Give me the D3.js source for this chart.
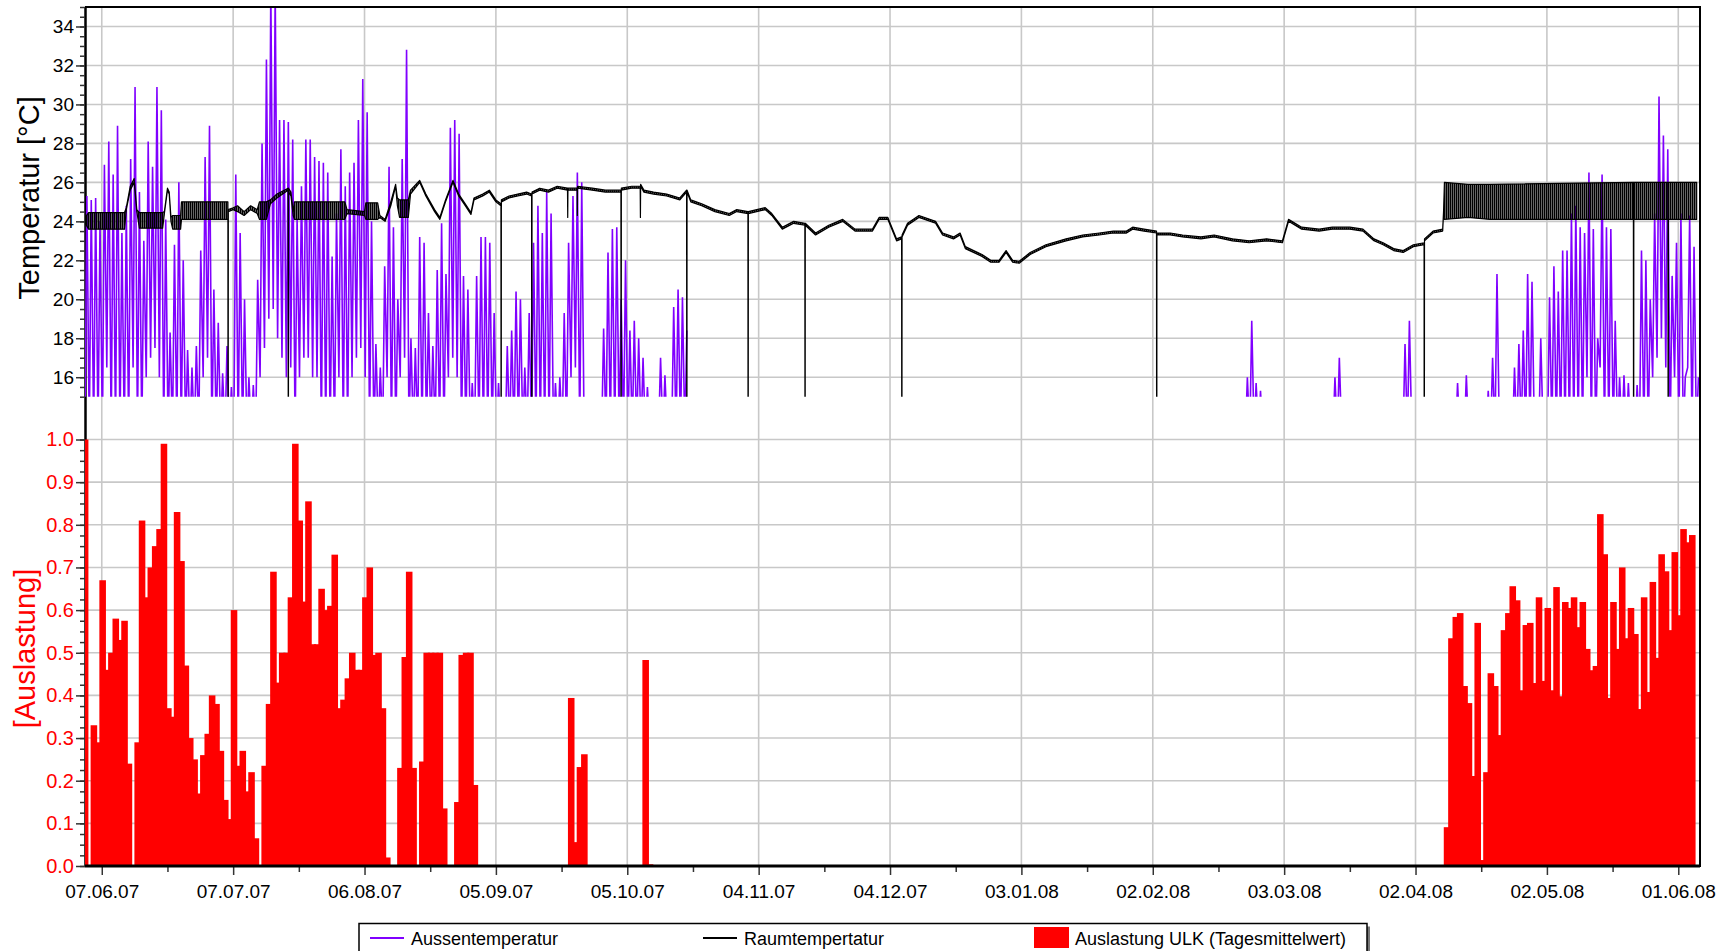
<!DOCTYPE html>
<html>
<head>
<meta charset="utf-8">
<script src="https://cdn.jsdelivr.net/npm/d3@7"></script>
<style>
  body { margin: 0; background: #fff; }
  svg { display: block; }
  text { font-family: "Liberation Sans", Arial, sans-serif; }
</style>
</head>
<body>
<div id="chart"></div>
<script>
// SVG dims
var width = 1728;
var height = 951;

// Tick labels
var dateTicks = ["07.06.07", "07.07.07", "06.08.07", "05.09.07", "05.10.07", "04.11.07",
    "04.12.07", "03.01.08", "02.02.08", "03.03.08", "02.04.08", "02.05.08", "01.06.08"];
var tempTicks = [16, 18, 20, 22, 24, 26, 28, 30, 32, 34];
var ausTicks = [0.0, 0.1, 0.2, 0.3, 0.4, 0.5, 0.6, 0.7, 0.8, 0.9, 1.0];

// Day numbers count from 03.06.07
var firstDay = "03.06.07";

// Aussentemperatur, daily min / max, block 1 starts on day 0
var outStart1 = 0;
var outMax1 = [
    25.3, 25.1, 25.2, 24.0, 26.9, 28.1, 26.4, 28.9, 23.4, 24.8,
    27.2, 30.9, 25.5, 23.0, 28.1, 26.8, 30.9, 29.7, 24.1, 18.3,
    22.8, 26.0, 22.0, 17.4, 16.5, 17.6, 22.5, 27.3, 28.9, 20.5,
    18.8, 16.2, 17.6, 15.5, 26.4, 23.4, 20.0, 16.0, 15.6, 21.0,
    28.0, 32.3, 36.0, 36.0, 29.2, 29.2, 29.1, 28.2, 24.1, 25.8,
    28.2, 28.2, 27.3, 27.1, 27.0, 26.5, 22.2, 24.4, 27.7, 25.8,
    26.5, 27.0, 29.2, 31.3, 29.6, 24.0, 17.7, 16.5, 21.7, 26.8,
    23.7, 20.0, 27.2, 32.8, 18.0, 17.5, 23.2, 22.9, 19.3, 17.6,
    21.5, 23.9, 21.3, 28.8, 29.2, 28.5, 21.2, 20.5, 15.7, 21.2,
    23.2, 23.2, 22.9, 19.3, 15.7, 13.0, 17.6, 18.4, 20.4, 20.0,
    16.5, 19.3, 22.9, 24.8, 23.4, 25.5, 24.4, 15.7, 16.0, 19.3,
    22.9, 25.3, 26.5, 26.0, 13.0, 13.0, 13.0, 13.0, 18.5, 22.4,
    23.6, 23.7, 20.0, 22.0, 18.4, 18.9, 18.0, 17.0, 15.5, 13.0,
    13.0, 17.0, 16.1, 13.0, 19.6, 20.5, 20.1, 18.4
];
var outMin1 = [
    13, 13, 13, 13, 13, 16.5, 13, 13, 13, 13,
    13, 16.5, 13, 13, 16, 17, 17.5, 16, 13, 13,
    13, 13, 13, 13, 13, 13, 13, 16, 17, 13,
    13, 13, 13, 13, 13, 13, 13, 13, 13, 13,
    16, 17.5, 19, 19.5, 18, 17, 16, 16.5, 13, 16,
    17, 17, 16, 16, 13, 13, 13, 13, 16, 13,
    13, 16, 17, 17.5, 16, 13, 13, 13, 13, 16,
    13, 13, 16, 17, 13, 13, 13, 13, 13, 13,
    13, 13, 13, 16, 17, 16, 13, 13, 13, 13,
    13, 13, 13, 13, 13, 13, 13, 13, 13, 13,
    13, 13, 13, 13, 13, 13, 13, 13, 13, 13,
    13, 16, 16.5, 13, 13, 13, 13, 13, 13, 13,
    13, 13, 13, 13, 13, 13, 13, 13, 13, 13,
    13, 13, 13, 13, 13, 13, 13, 13
];

// Aussentemperatur block 2 starts on day 265 (23.02.08)
var outStart2 = 265;
var outMax2 = [
    16.0, 18.9, 15.7, 15.3, 13,
    13, 13, 13, 13, 13, 13, 13, 13, 13, 13,
    13, 13, 13, 13, 13, 16.0, 17.0, 13, 13, 13,
    13, 13, 13, 13, 13, 13, 13, 13, 13, 13,
    13, 17.7, 18.9, 13, 13, 13, 13, 13, 13, 13,
    13, 13, 13, 15.7, 13, 16.1, 13, 13, 13, 13,
    15.3, 17.0, 21.3, 13, 13, 13, 16.5, 17.7, 18.4, 21.3,
    20.9, 13, 18.0, 13, 20.1, 21.7, 20.4, 22.5, 22.5, 24.4,
    24.8, 23.7, 23.4, 26.5, 23.6, 18.0, 26.4, 23.7, 23.6, 18.9,
    16.0, 16.1, 15.7, 13, 15.6, 22.5, 22.0, 20.0, 24.4, 30.4,
    28.4, 27.7, 21.2, 22.9, 24.4, 16.0, 24.3, 22.7, 16.0
];
var outMin2 = [
    13, 13, 13, 13, 13, 13, 13, 13, 13, 13,
    13, 13, 13, 13, 13, 13, 13, 13, 13, 13,
    13, 13, 13, 13, 13, 13, 13, 13, 13, 13,
    13, 13, 13, 13, 13, 13, 13, 13, 13, 13,
    13, 13, 13, 13, 13, 13, 13, 13, 13, 13,
    13, 13, 13, 13, 13, 13, 13, 13, 13, 13,
    13, 13, 13, 13, 13, 13, 13, 13, 13, 13,
    13, 13, 13, 13, 13, 13, 13, 13, 16, 13,
    13, 16.5, 13, 13, 13, 13, 13, 13, 13, 13,
    13, 13, 13, 16, 17, 18, 16.5, 13, 16, 13,
    13, 16.5, 13, 13
];

// Raumtempertatur: day, low and high of the reading band (0 = sensor dropout)
var roomDay = [
    0.2, 1.0, 9.2, 9.6, 10.5, 11.4, 12.0, 12.6, 17.9, 18.3,
    19.0, 19.4, 19.8, 20.2, 22.0, 22.2, 32.8, 32.85, 32.9, 34.0,
    35.0, 36.5, 38.0, 39.5, 40.0, 41.6, 42.5, 44.0, 46.55, 46.6,
    46.65, 47.2, 47.7, 48.0, 59.5, 60.0, 64.0, 64.3, 67.0, 67.5,
    68.7, 70.0, 71.1, 71.5, 72.0, 74.0, 74.5, 76.6, 78.0, 80.0,
    81.2, 82.5, 84.2, 85.5, 87.0, 88.3, 89.0, 91.0, 92.5, 94.0,
    95.15, 95.2, 95.25, 97.0, 99.0, 101.0, 102.15, 102.2, 102.25, 104.0,
    106.0, 108.0, 110.35, 110.4, 110.45, 112.55, 112.6, 112.65, 116.0, 119.0,
    122.55, 122.6, 122.65, 125.0, 126.95, 127.0, 127.05, 127.8, 130.0, 133.0,
    136.0, 137.55, 137.6, 137.65, 138.5, 141.0, 144.0, 147.3, 149.0, 151.55,
    151.6, 151.65, 155.5, 157.0, 159.4, 162.0, 164.55, 164.6, 164.65, 167.0,
    170.0, 173.2, 176.0, 180.0, 181.5, 183.5, 185.5, 186.65, 186.7, 186.75,
    188.0, 190.6, 194.4, 196.0, 198.5, 200.0, 201.2, 205.0, 207.0, 208.9,
    210.5, 212.0, 213.5, 216.0, 219.6, 224.2, 228.0, 231.8, 235.0, 238.0,
    239.4, 242.0, 244.85, 244.9, 244.95, 248.0, 250.8, 255.0, 258.0, 262.2,
    266.0, 270.0, 273.6, 275.0, 278.0, 282.0, 285.0, 289.0, 292.0, 294.5,
    296.6, 299.0, 301.2, 303.5, 305.95, 306.0, 306.05, 308.0, 310.2, 310.4,
    310.6, 316.0, 321.0, 353.75, 353.8, 353.85, 361.65, 361.7, 361.75, 368.2
];
var roomLo = [
    23.9, 23.6, 23.6, 24.6, 25.6, 26.0, 24.5, 23.65, 23.65, 24.4,
    25.6, 25.4, 24.0, 23.6, 23.6, 24.1, 24.1, 0, 24.5, 24.6,
    24.5, 24.3, 24.6, 24.4, 24.1, 24.1, 24.9, 25.2, 25.6, 0,
    25.5, 25.3, 24.3, 24.1, 24.1, 24.4, 24.3, 24.1, 24.1, 24.2,
    24.0, 24.8, 25.8, 24.8, 24.2, 24.2, 25.4, 26.0, 25.3, 24.5,
    24.1, 25.0, 26.0, 25.3, 24.8, 24.35, 25.1, 25.3, 25.5, 25.0,
    24.8, 0, 25.0, 25.2, 25.3, 25.4, 25.3, 0, 25.4, 25.6,
    25.5, 25.7, 25.6, 24.2, 25.6, 25.6, 24.3, 25.7, 25.6, 25.5,
    25.5, 0, 25.6, 25.7, 25.7, 24.2, 25.8, 25.5, 25.4, 25.3,
    25.1, 25.5, 0, 25.5, 25.0, 24.8, 24.5, 24.3, 24.5, 24.4,
    0, 24.4, 24.6, 24.3, 23.6, 23.9, 23.8, 0, 23.8, 23.3,
    23.7, 24.0, 23.5, 23.5, 24.1, 24.1, 23.0, 23.1, 0, 23.2,
    23.8, 24.2, 23.9, 23.3, 23.1, 23.3, 22.6, 22.2, 21.9, 21.9,
    22.4, 21.9, 21.85, 22.3, 22.7, 23.0, 23.2, 23.3, 23.4, 23.4,
    23.6, 23.5, 23.4, 0, 23.3, 23.3, 23.2, 23.1, 23.2, 23.0,
    22.9, 23.0, 22.9, 24.0, 23.6, 23.5, 23.6, 23.6, 23.5, 23.0,
    22.8, 22.5, 22.4, 22.7, 22.8, 0, 23.0, 23.4, 23.5, 24.4,
    24.1, 24.2, 24.1, 24.1, 0, 24.1, 24.1, 0, 24.1, 24.1
];
var roomHi = [
    24.2, 24.45, 24.45, 24.7, 25.8, 26.2, 24.6, 24.45, 24.45, 24.5,
    25.7, 25.5, 24.2, 24.3, 24.3, 25.0, 25.0, 0, 24.6, 24.7,
    24.8, 24.5, 24.8, 24.6, 25.0, 25.0, 25.1, 25.4, 25.7, 0,
    25.7, 25.5, 24.5, 25.0, 25.0, 24.6, 24.5, 24.95, 24.95, 24.3,
    24.1, 25.0, 25.9, 25.2, 25.1, 25.1, 25.6, 26.1, 25.4, 24.6,
    24.2, 25.1, 26.1, 25.4, 24.9, 24.45, 25.2, 25.4, 25.6, 25.1,
    24.9, 0, 25.1, 25.3, 25.4, 25.5, 25.4, 0, 25.5, 25.7,
    25.6, 25.8, 25.7, 24.3, 25.7, 25.7, 24.4, 25.8, 25.7, 25.6,
    25.6, 0, 25.7, 25.8, 25.8, 24.3, 25.9, 25.6, 25.5, 25.4,
    25.2, 25.6, 0, 25.6, 25.1, 24.9, 24.6, 24.4, 24.6, 24.5,
    0, 24.5, 24.7, 24.4, 23.7, 24.0, 23.9, 0, 23.9, 23.4,
    23.8, 24.1, 23.6, 23.6, 24.2, 24.2, 23.1, 23.2, 0, 23.3,
    23.9, 24.3, 24.0, 23.4, 23.2, 23.4, 22.7, 22.3, 22.0, 22.0,
    22.5, 22.0, 21.95, 22.4, 22.8, 23.1, 23.3, 23.4, 23.5, 23.5,
    23.7, 23.6, 23.5, 0, 23.4, 23.4, 23.3, 23.2, 23.3, 23.1,
    23.0, 23.1, 23.0, 24.1, 23.7, 23.6, 23.7, 23.7, 23.6, 23.1,
    22.9, 22.6, 22.5, 22.8, 22.9, 0, 23.1, 23.5, 23.6, 24.5,
    26.0, 25.9, 25.9, 26.0, 0, 26.0, 26.0, 0, 26.0, 26.0
];

// Auslastung ULK (Tagesmittelwert), one value per day
var ausStart1 = 0;
var aus1 = [
    1.0, 0, 0.33, 0.29, 0.67, 0.46, 0.50, 0.58, 0.53, 0.575,
    0.24, 0, 0.29, 0.81, 0.63, 0.70, 0.75, 0.79, 0.99, 0.37,
    0.35, 0.83, 0.715, 0.47, 0.30, 0.25, 0.17, 0.26, 0.31, 0.40,
    0.38, 0.27, 0.155, 0.11, 0.60, 0.235, 0.27, 0.175, 0.22, 0.065,
    0, 0.235, 0.38, 0.69, 0.43, 0.50, 0.50, 0.63, 0.99, 0.81,
    0.62, 0.855, 0.52, 0.52, 0.65, 0.60, 0.61, 0.73, 0.37, 0.39,
    0.44, 0.50, 0.46, 0.46, 0.63, 0.70, 0.495, 0.50, 0.37, 0.02,
    0, 0, 0.23, 0.49, 0.69, 0.23, 0, 0.245, 0.50, 0.50,
    0.50, 0.50, 0.135, 0, 0, 0.15, 0.495, 0.50, 0.50, 0.19,
    0, 0, 0, 0, 0, 0, 0, 0, 0, 0,
    0, 0, 0, 0, 0, 0, 0, 0, 0, 0,
    0, 0.394, 0.056, 0.232, 0.262, 0, 0, 0, 0, 0,
    0, 0, 0, 0, 0, 0, 0, 0, 0.483, 0.004
];
var ausStart2 = 311;
var aus2 = [
    0.091, 0.534, 0.584, 0.593, 0.422, 0.382, 0.211, 0.57, 0.014, 0.22,
    0.452, 0.422, 0.307, 0.553, 0.593, 0.656, 0.623, 0.412, 0.565, 0.57,
    0.429, 0.63, 0.434, 0.605, 0.412, 0.654, 0.398, 0.619, 0.605, 0.63,
    0.56, 0.619, 0.509, 0.459, 0.469, 0.825, 0.731, 0.394, 0.619, 0.509,
    0.70, 0.534, 0.605, 0.544, 0.368, 0.63, 0.408, 0.666, 0.488, 0.731,
    0.691, 0.553, 0.736, 0.588, 0.79, 0.759, 0.776
];

// Legend entries
var legendNames = ["Aussentemperatur", "Raumtempertatur", "Auslastung ULK (Tagesmittelwert)"];

// Colours
var purple = "#8000ff";
var red = "#ff0000";
var gridColor = "#c8c8c8";

var parseDate = d3.utcParse("%d.%m.%y");
var day0 = parseDate(firstDay).getTime();
function dayDate(d) {
    return new Date(day0 + d * 864e5);
}

// Scales
var x = d3.scaleUtc()
    .domain([dayDate(0.17), dayDate(368.96)])
    .range([85, 1700]);
var yT = d3.scaleLinear()
    .domain([15, 35])
    .range([396.7, 7]);
var yA = d3.scaleLinear()
    .domain([0, 1])
    .range([866, 439.5]);

var svg = d3.select("#chart").append("svg")
    .attr("width", width)
    .attr("height", height);

svg.append("rect").attr("width", width).attr("height", height).attr("fill", "#fff");

var defs = svg.append("defs");
defs.append("clipPath").attr("id", "clipT")
    .append("rect").attr("x", 85).attr("y", 7).attr("width", 1615).attr("height", yT(15) - 7);
defs.append("clipPath").attr("id", "clipA")
    .append("rect").attr("x", 85).attr("y", 410).attr("width", 1615).attr("height", 456);
// dense hourly swings of the room reading show up as vertical hatching
defs.append("pattern").attr("id", "hatch")
    .attr("patternUnits", "userSpaceOnUse")
    .attr("width", 2).attr("height", 8)
    .append("rect").attr("width", 1.6).attr("height", 8).attr("fill", "#000");

// Gridlines
var dates = dateTicks.map(parseDate);
var grid = svg.append("g").attr("stroke", gridColor).attr("stroke-width", 1.6);
grid.selectAll(".gv").data(dates).enter().append("line")
    .attr("x1", function(d) { return x(d); })
    .attr("x2", function(d) { return x(d); })
    .attr("y1", 7)
    .attr("y2", 866);
grid.selectAll(".gt").data(tempTicks).enter().append("line")
    .attr("x1", 85).attr("x2", 1700)
    .attr("y1", function(d) { return yT(d); })
    .attr("y2", function(d) { return yT(d); });
grid.selectAll(".ga").data(ausTicks.slice(1)).enter().append("line")
    .attr("x1", 85).attr("x2", 1700)
    .attr("y1", function(d) { return yA(d); })
    .attr("y2", function(d) { return yA(d); });

// Left axis line
svg.append("line").attr("x1", 85.5).attr("x2", 85.5).attr("y1", 7).attr("y2", 866)
    .attr("stroke", "#000").attr("stroke-width", 2.5);

// Bars (daily values, bar spans 1.5 days)
var bars = [];
aus1.forEach(function(v, i) { if (v > 0) bars.push({ day: ausStart1 + i, val: v }); });
aus2.forEach(function(v, i) { if (v > 0) bars.push({ day: ausStart2 + i, val: v }); });

svg.append("g").attr("clip-path", "url(#clipA)")
    .selectAll("rect").data(bars).enter().append("rect")
    .attr("x", function(d) { return x(dayDate(d.day - 0.55)); })
    .attr("width", function(d) { return x(dayDate(d.day + 0.95)) - x(dayDate(d.day - 0.55)); })
    .attr("y", function(d) { return yA(d.val); })
    .attr("height", function(d) { return yA(0) - yA(d.val); })
    .attr("fill", red);

// Aussentemperatur: min in the morning, max in the afternoon
function dayPoints(start, mins, maxs) {
    var pts = [];
    mins.forEach(function(m, i) {
        pts.push([start + i + 0.15, m]);
        pts.push([start + i + 0.6, maxs[i]]);
    });
    return pts;
}
var outLine = d3.line()
    .x(function(d) { return x(dayDate(d[0])); })
    .y(function(d) { return yT(d[1]); });

var upper = svg.append("g").attr("clip-path", "url(#clipT)");
[dayPoints(outStart1, outMin1, outMax1), dayPoints(outStart2, outMin2, outMax2)].forEach(function(pts) {
    upper.append("path")
        .attr("d", outLine(pts))
        .attr("fill", "none")
        .attr("stroke", purple)
        .attr("stroke-width", 1.6)
        .attr("stroke-linejoin", "miter");
});

// Raumtempertatur band
var room = roomDay.map(function(d, i) { return { day: d, lo: roomLo[i], hi: roomHi[i] }; });
var roomArea = d3.area()
    .x(function(d) { return x(dayDate(d.day)); })
    .y0(function(d) { return yT(d.lo); })
    .y1(function(d) { return yT(d.hi); });
upper.append("path")
    .attr("d", roomArea(room))
    .attr("fill", "url(#hatch)")
    .attr("stroke", "#000")
    .attr("stroke-width", 1.2)
    .attr("stroke-linejoin", "round");

// Y axes
function styleAxis(g, color, size) {
    g.select(".domain").remove();
    g.selectAll("line").attr("stroke", "#333").attr("stroke-width", 1.5);
    g.selectAll("text").attr("fill", color).attr("font-size", size)
        .attr("font-family", "'Liberation Sans', Arial, sans-serif");
}
var axT = svg.append("g").attr("transform", "translate(85,0)")
    .call(d3.axisLeft(yT).tickValues(tempTicks).tickSize(9).tickPadding(2).tickFormat(d3.format("d")));
styleAxis(axT, "#000", 19);
var axTm = svg.append("g").attr("transform", "translate(85,0)")
    .call(d3.axisLeft(yT).tickValues(d3.range(15, 35.01, 0.5)).tickSize(5).tickFormat(""));
styleAxis(axTm, "#000", 19);

var axA = svg.append("g").attr("transform", "translate(85,0)")
    .call(d3.axisLeft(yA).tickValues(ausTicks).tickSize(9).tickPadding(2).tickFormat(d3.format(".1f")));
styleAxis(axA, red, 20);
var axAm = svg.append("g").attr("transform", "translate(85,0)")
    .call(d3.axisLeft(yA).tickValues(d3.range(0, 1.001, 0.025)).tickSize(5).tickFormat(""));
styleAxis(axAm, red, 20);

// X axis
var axX = svg.append("g").attr("transform", "translate(0,866)")
    .call(d3.axisBottom(x).tickValues(dates).tickSize(9).tickFormat(d3.utcFormat("%d.%m.%y")));
styleAxis(axX, "#000", 19);
axX.selectAll("text").attr("y", 32).attr("dy", 0);
var minorDates = dates.map(function(d) { return d3.utcDay.offset(d, 15); })
    .filter(function(d) { return d < x.domain()[1]; });
var axXm = svg.append("g").attr("transform", "translate(0,866)")
    .call(d3.axisBottom(x).tickValues(minorDates).tickSize(6).tickFormat(""));
styleAxis(axXm, "#000", 19);

// Frame
svg.append("line").attr("x1", 85).attr("x2", 1700).attr("y1", 866).attr("y2", 866)
    .attr("stroke", "#000").attr("stroke-width", 3);
svg.append("line").attr("x1", 85).attr("x2", 1701).attr("y1", 7).attr("y2", 7)
    .attr("stroke", "#000").attr("stroke-width", 2);
svg.append("line").attr("x1", 1700).attr("x2", 1700).attr("y1", 7).attr("y2", 867)
    .attr("stroke", "#000").attr("stroke-width", 2);

// Axis titles
svg.append("text")
    .attr("transform", "translate(39,198) rotate(-90)")
    .attr("text-anchor", "middle")
    .attr("font-size", 29)
    .attr("fill", "#000")
    .text("Temperatur [°C]");
svg.append("text")
    .attr("transform", "translate(35,648.5) rotate(-90)")
    .attr("text-anchor", "middle")
    .attr("font-size", 29)
    .attr("fill", red)
    .text("[Auslastung]");

// Legend
var legend = svg.append("g");
legend.append("rect").attr("x", 362).attr("y", 926.5).attr("width", 1008).attr("height", 40).attr("fill", "#777");
legend.append("rect").attr("x", 359).attr("y", 923.5).attr("width", 1008).attr("height", 40)
    .attr("fill", "#fff").attr("stroke", "#000").attr("stroke-width", 1.5);
legend.append("line").attr("x1", 370).attr("x2", 404).attr("y1", 938).attr("y2", 938)
    .attr("stroke", purple).attr("stroke-width", 2);
legend.append("line").attr("x1", 703).attr("x2", 737).attr("y1", 938).attr("y2", 938)
    .attr("stroke", "#000").attr("stroke-width", 2);
legend.append("rect").attr("x", 1034).attr("y", 927).attr("width", 35).attr("height", 21).attr("fill", red);
legend.selectAll("text").data(legendNames).enter().append("text")
    .attr("x", function(d, i) { return [411, 744, 1075][i]; })
    .attr("y", 945)
    .attr("font-size", 18)
    .attr("fill", "#000")
    .text(function(d) { return d; });
</script>
</body>
</html>
